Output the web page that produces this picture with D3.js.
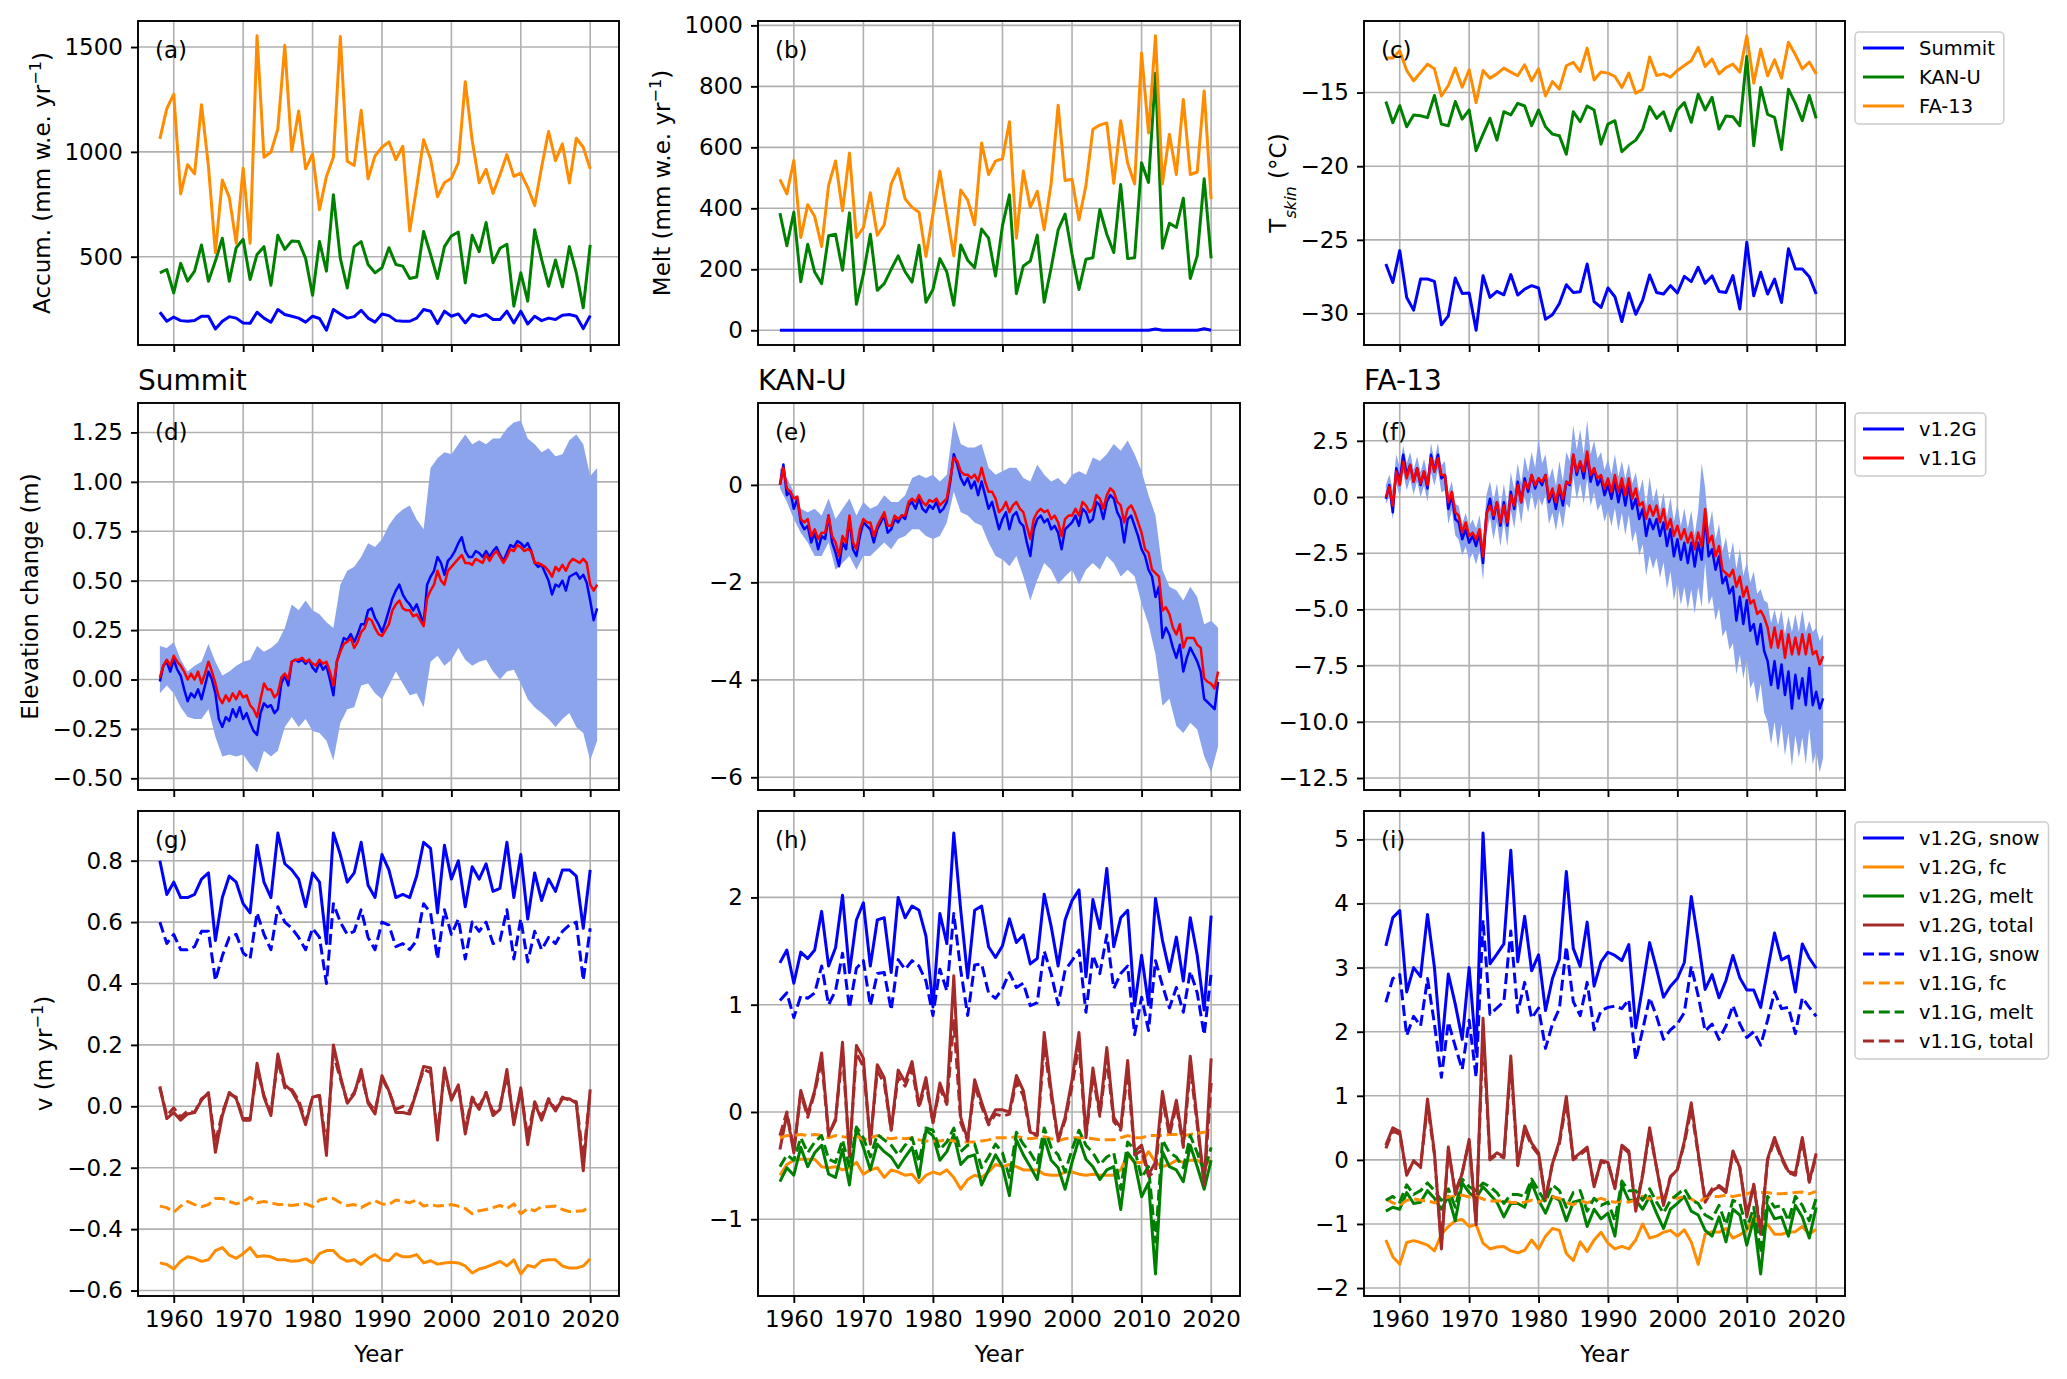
<!DOCTYPE html>
<html>
<head>
<meta charset="utf-8">
<script src="https://cdn.jsdelivr.net/npm/d3@7"></script>
<style>
  body { margin: 0; background: #fff; }
  svg { display: block; font-family: "DejaVu Sans", sans-serif; }
</style>
</head>
<body>
<svg id="fig" width="2067" height="1379"></svg>
<script>
// ---- x values ----
const years = [1958,1959,1960,1961,1962,1963,1964,1965,1966,1967,1968,1969,1970,1971,1972,1973,1974,1975,1976,1977,
  1978,1979,1980,1981,1982,1983,1984,1985,1986,1987,1988,1989,1990,1991,1992,1993,1994,1995,1996,1997,
  1998,1999,2000,2001,2002,2003,2004,2005,2006,2007,2008,2009,2010,2011,2012,2013,2014,2015,2016,2017,2018,2019,2020];

const halfYears = [1958,1958.5,1959,1959.5,1960,1960.5,1961,1961.5,1962,1962.5,1963,1963.5,1964,1964.5,1965,1965.5,1966,1966.5,1967,1967.5,
  1968,1968.5,1969,1969.5,1970,1970.5,1971,1971.5,1972,1972.5,1973,1973.5,1974,1974.5,1975,1975.5,1976,1976.5,1977,1977.5,
  1978,1978.5,1979,1979.5,1980,1980.5,1981,1981.5,1982,1982.5,1983,1983.5,1984,1984.5,1985,1985.5,1986,1986.5,1987,1987.5,
  1988,1988.5,1989,1989.5,1990,1990.5,1991,1991.5,1992,1992.5,1993,1993.5,1994,1994.5,1995,1995.5,1996,1996.5,1997,1997.5,
  1998,1998.5,1999,1999.5,2000,2000.5,2001,2001.5,2002,2002.5,2003,2003.5,2004,2004.5,2005,2005.5,2006,2006.5,2007,2007.5,
  2008,2008.5,2009,2009.5,2010,2010.5,2011,2011.5,2012,2012.5,2013,2013.5,2014,2014.5,2015,2015.5,2016,2016.5,2017,2017.5,
  2018,2018.5,2019,2019.5,2020,2020.5,2021];

const bandYears = [1958,1959,1960,1961,1962,1963,1964,1965,1966,1967,1968,1969,1970,1971,1972,1973,1974,1975,1976,1977,
  1978,1979,1980,1981,1982,1983,1984,1985,1986,1987,1988,1989,1990,1991,1992,1993,1994,1995,1996,1997,
  1998,1999,2000,2001,2002,2003,2004,2005,2006,2007,2008,2009,2010,2011,2012,2013,2014,2015,2016,2017,2018,2019,2020,2021];

const xTicks = [1960, 1970, 1980, 1990, 2000, 2010, 2020];

// ---- (a) accumulation, mm w.e. / yr ----
const accumSummit = [235,192,212,195,192,196,216,216,155,192, 214,207,184,182,235,207,187,248,224,216,
  207,188,216,205,149,248,227,207,214,244, 207,188,227,219,195,192,192,207,248,240,
  181,240,216,227,184,224,214,224,200,200, 240,184,240,179,216,195,207,200,221,224, 216,157,219];
const accumKANU = [423,439,327,468,383,431,556,383,479,588, 383,543,583,391,511,548,364,602,535,575,
  572,492,316,572,431,796,492,351,548,572, 463,423,447,543,463,455,396,403,620,511,
  396,548,599,618,375,602,524,663,471,540, 559,264,423,288,628,487,359,484,356,548, 423,256,556];
const accumFA13 = [1062,1206,1275,799,939,895,1225,931,519,866, 783,564,922,564,1554,974,998,1110,1508,1003,
  1195,919,990,724,883,974,1550,955,935,1198, 871,981,1022,1048,963,1027,623,831,1058,966,
  786,853,874,947,1335,1054,853,917,802,891, 987,883,899,831,744,927,1097,958,1038,851, 1065,1022,919];

// ---- (b) melt, mm w.e. / yr ----
const meltSummit = [0,0,0,0,0,0,0,0,0,0, 0,0,0,0,0,0,0,0,0,0, 0,0,0,0,0,0,0,0,0,0, 0,0,0,0,0,0,0,0,0,0,
  0,0,0,0,0,0,0,0,0,0, 0,0,0,0,4,0,0,0,0,0, 0,5,0];
const meltKANU = [384,277,387,159,282,191,153,310,315,197, 385,85,184,315,131,153,200,244,192,158,
  279,92,134,235,191,82,280,230,205,332, 302,178,343,444,120,211,227,312,92,205,
  329,381,249,134,233,238,396,315,255,478, 235,238,549,485,843,269,351,337,433,170, 244,497,236];
const meltFA13 = [495,447,557,304,412,373,275,475,555,392, 581,304,337,451,312,346,480,530,431,403,
  387,242,381,522,381,244,460,427,346,614, 511,555,563,684,302,522,403,456,330,482,
  738,491,495,362,475,659,673,680,482,687, 548,480,909,647,966,480,643,511,757,511, 519,785,430];

// ---- (c) skin temperature, degC ----
const tskinSummit = [-26.64,-27.89,-25.73,-28.91,-29.77,-27.66,-27.66,-27.82,-30.77,-30.16,
  -27.59,-28.64,-28.61,-31.14,-27.43,-28.91,-28.5,-28.73,-27.36,-28.75,
  -28.34,-28.11,-28.27,-30.39,-30.09,-29.32,-28.05,-28.57,-28.52,-26.64,
  -29.2,-29.59,-28.27,-28.86,-30.55,-28.61,-30.05,-29.09,-27.39,-28.57,
  -28.68,-28.11,-28.61,-27.48,-27.84,-26.86,-27.95,-27.45,-28.5,-28.57,
  -27.43,-29.7,-25.16,-28.8,-27.2,-28.68,-27.66,-29.25,-25.61,-26.98, -26.98,-27.5,-28.68];
const tskinKANU = [-15.61,-17.05,-15.89,-17.32,-16.52,-16.57,-16.7,-15.2,-17.14,-17.25,
  -15.61,-16.8,-16.18,-18.95,-17.82,-16.75,-18.23,-16.3,-16.52,-15.73,
  -15.91,-17.25,-16.18,-17.32,-17.82,-17.93,-19.18,-16.3,-16.98,-15.91,
  -16.18,-18.5,-17.14,-16.91,-19.02,-18.57,-18.23,-17.5,-15.95,-16.75,
  -16.3,-17.59,-16.18,-15.68,-17.02,-15.11,-16.18,-15.32,-17.48,-16.59,
  -16.64,-17.25,-12.55,-18.61,-14.66,-16.48,-16.68,-18.86,-14.77,-15.73, -16.91,-15.2,-16.75];
const tskinFA13 = [-12.66,-12.66,-12.16,-13.5,-14.2,-13.64,-13.07,-13.39,-15.23,-14.52,
  -13.34,-14.64,-13.45,-15.68,-13.5,-14.02,-13.73,-13.34,-13.61,-13.86,
  -13.11,-14.2,-13.39,-15.23,-14.25,-14.77,-13.18,-12.95,-13.57,-11.98,
  -14.14,-13.61,-13.68,-13.91,-14.66,-13.68,-15.05,-14.77,-12.59,-13.84,
  -13.73,-13.95,-13.5,-13.16,-12.84,-11.93,-13.23,-12.73,-13.73,-13.3,
  -13.07,-13.61,-11.14,-14.36,-12.05,-13.86,-12.77,-14.02,-11.59,-12.43, -13.39,-12.93,-13.73];

// ---- (d) Summit elevation change, m (half-yearly) ----
const dSummitV12 = [-0.01,0.07, 0.09,0.04, 0.10,0.05, 0.02,-0.05, -0.11,-0.07, -0.09,-0.05, -0.10,-0.03, 0.04,0.00, -0.07,-0.20, -0.24,-0.19,
  -0.21,-0.15, -0.19,-0.14, -0.20,-0.17, -0.22,-0.26, -0.28,-0.17, -0.12,-0.14, -0.13,-0.17, -0.15,-0.02, 0.02,-0.03, 0.09,0.10,
  0.09,0.10, 0.08,0.10, 0.06,0.04, 0.09,0.05, 0.07,0.00, -0.08,0.09, 0.15,0.21, 0.20,0.23, 0.19,0.23, 0.28,0.28,
  0.35,0.36, 0.31,0.28, 0.24,0.29, 0.35,0.41, 0.45,0.48, 0.43,0.40, 0.38,0.35, 0.38,0.33, 0.28,0.48, 0.52,0.55,
  0.62,0.59, 0.53,0.60, 0.62,0.65, 0.69,0.72, 0.65,0.62, 0.62,0.65, 0.64,0.62, 0.65,0.62, 0.65,0.67, 0.63,0.60,
  0.64,0.68, 0.67,0.70, 0.69,0.67, 0.69,0.65, 0.59,0.57, 0.58,0.54, 0.50,0.43, 0.48,0.47, 0.50,0.45, 0.52,0.53,
  0.54,0.51, 0.53,0.49, 0.40,0.30, 0.36];
const dSummitV11 = [0.01,0.07, 0.10,0.07, 0.12,0.09, 0.07,0.04, 0.00,0.03, 0.00,0.04, -0.02,0.03, 0.09,0.04, -0.02,-0.09, -0.12,-0.08,
  -0.11,-0.07, -0.10,-0.06, -0.09,-0.08, -0.13,-0.15, -0.19,-0.10, -0.02,-0.05, -0.05,-0.09, -0.07,0.01, 0.03,0.00, 0.09,0.10,
  0.10,0.11, 0.09,0.10, 0.08,0.07, 0.10,0.08, 0.09,0.04, -0.03,0.09, 0.14,0.18, 0.19,0.21, 0.16,0.19, 0.24,0.26,
  0.31,0.30, 0.26,0.23, 0.22,0.25, 0.28,0.35, 0.38,0.40, 0.36,0.35, 0.35,0.32, 0.33,0.30, 0.27,0.41, 0.45,0.48,
  0.55,0.50, 0.48,0.55, 0.57,0.59, 0.61,0.63, 0.59,0.59, 0.58,0.61, 0.60,0.59, 0.63,0.60, 0.63,0.65, 0.62,0.59,
  0.62,0.66, 0.65,0.68, 0.67,0.65, 0.66,0.65, 0.59,0.59, 0.58,0.57, 0.55,0.52, 0.57,0.55, 0.58,0.55, 0.59,0.61,
  0.60,0.59, 0.61,0.59, 0.48,0.45, 0.48];
const dSummitHi = [0.17,0.16,0.19,0.10,0.04,0.07,0.09,0.18,0.09,0.02, 0.04,0.07,0.09,0.10,0.17,0.14,0.16,0.19,0.26,0.38,
  0.35,0.40,0.35,0.33,0.29,0.26,0.48,0.55,0.57,0.62, 0.69,0.67,0.71,0.78,0.83,0.86,0.88,0.81,0.76,1.07,
  1.12,1.15,1.14,1.19,1.24,1.19,1.21,1.19,1.22,1.22, 1.27,1.30,1.31,1.22,1.19,1.15,1.17,1.13,1.14,1.21, 1.24,1.19,1.03,1.07];
const dSummitLo = [-0.07,-0.03,-0.07,-0.14,-0.19,-0.20,-0.20,-0.15,-0.29,-0.39, -0.38,-0.39,-0.38,-0.43,-0.47,-0.36,-0.39,-0.36,-0.24,-0.19,
  -0.24,-0.20,-0.26,-0.27,-0.31,-0.41,-0.22,-0.15,-0.14,-0.03, -0.02,-0.07,-0.10,-0.03,0.04,-0.02,-0.08,-0.07,-0.14,0.09,
  0.12,0.07,0.10,0.16,0.10,0.07,0.09,0.10,0.04,0.00, 0.04,0.05,-0.02,-0.10,-0.14,-0.17,-0.20,-0.24,-0.20,-0.17, -0.24,-0.27,-0.41,-0.31];

// ---- (e) KAN-U elevation change, m ----
const eKANUV12 = [0.00,0.42, -0.21,-0.14, -0.49,-0.28, -0.77,-0.91, -0.84,-1.18, -0.98,-1.32, -1.05,-1.11, -0.63,-1.18, -1.39,-1.67, -1.18,-1.32,
  -0.70,-1.32, -1.46,-1.05, -0.77,-0.84, -0.91,-1.18, -0.91,-0.77, -0.63,-0.98, -0.91,-0.70, -0.77,-0.63, -0.70,-0.42, -0.35,-0.49,
  -0.28,-0.49, -0.56,-0.42, -0.49,-0.35, -0.56,-0.49, -0.35,0.07, 0.63,0.42, 0.14,0.00, 0.14,-0.07, 0.07,-0.21, 0.07,-0.21,
  -0.49,-0.35, -0.63,-0.91, -0.70,-0.56, -0.91,-0.63, -0.56,-0.77, -0.84,-1.18, -1.46,-0.91, -0.70,-0.63, -0.77,-0.70, -0.91,-0.84,
  -0.98,-1.32, -0.91,-0.84, -0.77,-0.63, -0.84,-0.49, -0.56,-0.77, -0.70,-0.35, -0.42,-0.70, -0.35,-0.21, -0.28,-0.56, -0.70,-1.18,
  -0.70,-0.63, -0.84,-1.05, -1.32,-1.46, -1.74,-1.88, -2.30,-2.09, -3.14,-2.93, -3.07,-3.34, -3.55,-3.28, -3.83,-3.55, -3.34,-3.48,
  -3.62,-3.83, -4.39,-4.46, -4.53,-4.60, -4.04];
const eKANUV11 = [0.00,0.35, -0.07,-0.14, -0.28,-0.24, -0.70,-0.77, -0.70,-1.05, -0.91,-1.11, -0.98,-0.98, -0.63,-1.05, -1.18,-1.46, -1.05,-1.18,
  -0.63,-1.18, -1.32,-0.91, -0.70,-0.77, -0.77,-1.05, -0.84,-0.70, -0.56,-0.84, -0.84,-0.63, -0.70,-0.63, -0.63,-0.35, -0.28,-0.35,
  -0.21,-0.35, -0.42,-0.31, -0.35,-0.28, -0.42,-0.35, -0.28,0.14, 0.56,0.49, 0.28,0.21, 0.21,0.14, 0.21,0.07, 0.35,0.07,
  -0.14,-0.14, -0.28,-0.56, -0.49,-0.35, -0.56,-0.42, -0.35,-0.49, -0.56,-0.84, -1.11,-0.70, -0.56,-0.49, -0.56,-0.52, -0.70,-0.63,
  -0.77,-1.05, -0.70,-0.63, -0.63,-0.49, -0.63,-0.35, -0.42,-0.56, -0.49,-0.21, -0.28,-0.49, -0.21,-0.07, -0.14,-0.35, -0.42,-0.77,
  -0.49,-0.42, -0.56,-0.77, -0.98,-1.32, -1.39,-1.74, -1.81,-1.88, -2.58,-2.51, -2.65,-2.93, -3.07,-2.86, -3.34,-3.14, -3.14,-3.14,
  -3.28,-3.34, -3.97,-4.04, -4.08,-4.18, -3.83];
const eKANUHi = [0.35,0.14,-0.14,-0.49,-0.56,-0.49,-0.63,-0.28,-0.70,-0.49, -0.28,-0.63,-0.35,-0.49,-0.42,-0.21,-0.35,-0.35,-0.21,0.14,
  0.21,0.14,0.21,0.07,0.21,1.32,0.84,0.77,0.77,0.84, 0.35,0.21,0.28,0.35,0.35,0.14,0.07,0.42,0.21,0.07,
  0.14,0.00,0.21,0.28,0.21,0.56,0.49,0.63,0.84,0.70, 0.91,0.63,0.28,-0.21,-0.63,-1.74,-2.09,-2.16,-2.37,-2.09, -2.30,-2.86,-2.79,-2.93];
const eKANULo = [-0.07,-0.35,-0.70,-0.98,-1.18,-1.46,-1.46,-1.18,-1.74,-1.60, -1.46,-1.74,-1.46,-1.46,-1.32,-1.18,-1.32,-1.11,-1.05,-0.91,
  -0.91,-1.05,-1.11,-1.05,-0.77,-0.14,-0.56,-0.63,-0.77,-0.84, -1.18,-1.46,-1.53,-1.67,-1.46,-1.88,-2.37,-1.95,-1.60,-1.74,
  -2.04,-1.88,-1.74,-2.04,-1.74,-1.60,-1.74,-1.46,-1.60,-1.88, -1.74,-1.88,-2.44,-2.86,-3.48,-4.53,-4.39,-4.95,-5.09,-4.88, -5.02,-5.57,-5.90,-5.37];

// ---- (f) FA-13 elevation change, m ----
const fFA13V12 = [-0.08,0.53, -0.68,1.28, 0.68,1.88, 0.98,1.43, 0.68,1.28, 0.53,1.13, 0.38,1.88, 1.13,1.88, 0.83,0.98, -0.53,0.08,
  -0.98,-1.13, -1.88,-1.43, -2.03,-1.73, -2.18,-1.58, -2.94,-0.75, -0.08,-0.98, -0.23,-1.28, -0.23,-1.28, 0.23,-0.53, 0.68,-0.23,
  0.83,0.23, 0.98,0.38, 0.83,0.53, 0.98,-0.23, 0.23,-0.53, 0.38,-0.38, 0.68,0.53, 1.88,0.98, 1.58,0.83, 1.88,0.68,
  1.28,0.53, 0.83,0.08, 0.53,-0.08, 0.68,-0.23, 0.53,-0.38, 0.53,-0.53, -0.08,-0.98, -0.53,-1.73, -0.98,-1.43, -0.98,-1.73,
  -1.13,-2.18, -1.43,-2.64, -1.88,-2.79, -2.03,-2.94, -2.03,-3.09, -2.03,-2.79, -0.83,-2.64, -2.33,-3.24, -2.64,-3.84, -3.54,-4.29,
  -3.99,-5.50, -4.44,-5.65, -4.59,-5.95, -5.65,-6.55, -5.65,-6.85, -7.30,-8.36, -7.30,-8.51, -7.45,-8.81, -7.76,-9.41, -7.91,-8.96,
  -8.06,-9.26, -7.61,-9.26, -8.66,-9.41, -8.96];
const fFA13V11 = [0.00,0.45, -0.38,1.13, 0.53,1.58, 0.83,1.43, 0.68,1.28, 0.60,1.13, 0.53,1.73, 1.13,1.73, 0.98,0.98, -0.23,0.23,
  -0.68,-0.83, -1.58,-1.13, -1.73,-1.58, -1.88,-1.43, -2.64,-0.75, -0.38,-0.83, -0.23,-1.13, -0.38,-1.13, 0.08,-0.38, 0.53,-0.23,
  0.68,0.38, 0.98,0.53, 0.83,0.68, 0.98,-0.08, 0.38,-0.23, 0.53,-0.08, 0.68,0.60, 1.88,1.13, 1.58,1.13, 2.03,0.98,
  1.28,0.83, 0.98,0.38, 0.83,0.23, 0.98,0.23, 0.83,0.08, 0.83,-0.08, 0.38,-0.38, -0.23,-0.98, -0.38,-0.83, -0.38,-1.13,
  -0.53,-1.43, -0.98,-1.73, -1.28,-1.88, -1.43,-2.03, -1.58,-2.33, -1.58,-2.18, -0.53,-2.03, -1.73,-2.64, -2.18,-3.24, -3.39,-3.54,
  -3.24,-3.99, -3.54,-4.44, -3.99,-4.74, -4.59,-5.20, -5.05,-5.35, -5.80,-6.70, -5.80,-6.70, -5.95,-7.15, -6.10,-7.00, -6.25,-7.00,
  -6.10,-7.00, -6.10,-7.00, -6.85,-7.45, -7.08];
const fFA13Hi = [0.53,1.0, 0.3,1.9, 1.3,2.3, 1.5,2.0, 1.2,1.8, 1.1,1.7, 1.0,2.4, 1.6,2.4, 1.4,1.6, 0.2,0.7,
  -0.3,-0.4, -1.2,-0.7, -1.3,-1.0, -1.4,-0.8, -2.0,0.1, 0.7,-0.2, 0.6,-0.5, 0.6,-0.4, 1.1,0.3, 1.5,0.6,
  1.8,1.1, 2.0,1.3, 2.6,1.5, 1.9,0.8, 1.3,0.5, 1.6,0.7, 2.0,1.6, 3.2,2.1, 3.0,1.9, 3.4,1.9,
  2.5,1.7, 2.0,1.2, 1.7,1.0, 1.9,0.9, 1.6,0.8, 1.5,0.6, 1.1,0.2, 0.8,-0.4, 0.9,-0.2, 0.4,-0.6,
  0.2,-0.9, 0.0,-1.1, -0.3,-1.3, -0.5,-1.4, -0.6,-1.7, -0.6,1.5, 0.4,-1.4, -0.6,-1.9, -1.2,-2.4, -1.8,-2.8,
  -2.0,-3.2, -2.3,-3.5, -2.9,-3.8, -3.3,-4.3, -4.1,-4.6, -4.7,-5.6, -5.0,-5.7, -5.0,-6.1, -5.3,-6.0, -5.2,-6.0,
  -5.0,-6.0, -5.5,-6.0, -5.8,-6.4, -6.1];
const fFA13Lo = [-0.3,0.0, -1.0,0.6, 0.0,1.1, 0.3,0.8, 0.1,0.7, 0.0,0.5, -0.2,1.1, 0.5,1.2, 0.2,0.3, -1.2,-0.6,
  -1.7,-1.9, -2.6,-2.2, -2.8,-2.5, -3.0,-2.4, -3.7,-1.6, -0.9,-1.9, -1.1,-2.2, -1.1,-2.2, -0.6,-1.4, -0.2,-1.2,
  0.0,-0.7, 0.2,-0.6, 0.0,-0.4, 0.1,-1.2, -0.7,-1.5, -0.6,-1.4, -0.3,-0.5, 0.9,-0.1, 0.6,-0.3, 0.8,-0.4,
  0.2,-0.6, -0.3,-1.1, -0.6,-1.3, -0.5,-1.5, -0.7,-1.7, -0.8,-2.0, -1.5,-2.6, -2.1,-3.5, -2.6,-3.2, -2.7,-3.6,
  -2.9,-4.1, -3.3,-4.6, -3.8,-4.8, -4.0,-5.0, -4.1,-5.2, -4.0,-4.9, -2.9,-4.8, -4.4,-5.5, -4.9,-6.2, -5.9,-6.8,
  -6.5,-7.9, -7.0,-8.1, -7.2,-8.5, -8.2,-9.2, -8.3,-9.6, -10.0,-11.0, -10.0,-11.2, -10.1,-11.5, -10.5,-12.0, -10.6,-11.6,
  -10.7,-11.9, -10.3,-11.9, -11.3,-12.25, -11.6];

// ---- (g) Summit velocity components, m / yr ----
const gSnowV12 = [0.80,0.69,0.73,0.68,0.68,0.69,0.74,0.76,0.54,0.68, 0.75,0.73,0.66,0.63,0.85,0.73,0.68,0.89,0.79,0.77,
  0.74,0.65,0.76,0.73,0.53,0.89,0.82,0.73,0.76,0.86, 0.72,0.68,0.82,0.77,0.68,0.69,0.68,0.75,0.86,0.84,
  0.63,0.85,0.74,0.80,0.65,0.78,0.74,0.79,0.70,0.71, 0.86,0.68,0.82,0.61,0.76,0.67,0.74,0.70,0.77,0.77, 0.75,0.58,0.77];
const gSnowV11 = [0.60,0.53,0.56,0.51,0.51,0.52,0.57,0.57,0.41,0.49, 0.55,0.56,0.50,0.48,0.63,0.56,0.51,0.65,0.60,0.58,
  0.55,0.51,0.58,0.55,0.40,0.66,0.60,0.56,0.57,0.64, 0.55,0.51,0.60,0.59,0.52,0.53,0.51,0.54,0.66,0.63,
  0.48,0.64,0.56,0.61,0.48,0.60,0.57,0.60,0.53,0.54, 0.64,0.48,0.61,0.47,0.57,0.51,0.55,0.53,0.57,0.59, 0.60,0.41,0.58];
const gFcV12 = [-0.51,-0.515,-0.53,-0.505,-0.49,-0.495,-0.505,-0.50,-0.47,-0.46, -0.485,-0.495,-0.48,-0.46,-0.49,-0.487,-0.49,-0.50,-0.50,-0.505,
  -0.503,-0.497,-0.51,-0.48,-0.47,-0.47,-0.493,-0.505,-0.50,-0.515, -0.495,-0.483,-0.50,-0.503,-0.48,-0.49,-0.49,-0.483,-0.51,-0.503,
  -0.514,-0.51,-0.508,-0.51,-0.52,-0.543,-0.53,-0.524,-0.515,-0.505, -0.52,-0.50,-0.546,-0.518,-0.524,-0.503,-0.50,-0.50,-0.52,-0.527, -0.527,-0.52,-0.497];
const gFcV11 = [-0.325,-0.33,-0.345,-0.325,-0.31,-0.32,-0.327,-0.32,-0.30,-0.30, -0.31,-0.318,-0.31,-0.296,-0.314,-0.31,-0.314,-0.32,-0.32,-0.323,
  -0.32,-0.318,-0.327,-0.305,-0.30,-0.30,-0.314,-0.323,-0.32,-0.33, -0.318,-0.308,-0.318,-0.32,-0.305,-0.31,-0.314,-0.305,-0.325,-0.32,
  -0.325,-0.323,-0.32,-0.325,-0.333,-0.35,-0.34,-0.336,-0.33,-0.323, -0.333,-0.318,-0.35,-0.333,-0.34,-0.327,-0.327,-0.325,-0.336,-0.343, -0.342,-0.34,-0.325];
const gTotalV12 = [0.065,-0.04,-0.02,-0.045,-0.025,-0.02,0.02,0.045,-0.15,-0.03, 0.045,0.025,-0.045,-0.045,0.14,0.03,-0.03,0.17,0.07,0.05,
  0.01,-0.06,0.03,0.035,-0.16,0.20,0.10,0.01,0.04,0.12, 0.01,-0.025,0.10,0.05,-0.02,-0.02,-0.025,0.05,0.13,0.125,
  -0.11,0.125,0.02,0.07,-0.09,0.025,-0.01,0.045,-0.03,-0.01, 0.12,-0.06,0.06,-0.125,0.01,-0.045,0.02,-0.015,0.025,0.025, 0.01,-0.21,0.055];
const gTotalV11 = [0.06,-0.03,-0.005,-0.035,-0.015,-0.02,0.025,0.04,-0.12,-0.02, 0.04,0.03,-0.04,-0.04,0.12,0.035,-0.02,0.15,0.06,0.055,
  0.02,-0.05,0.03,0.035,-0.13,0.17,0.09,0.015,0.045,0.10, 0.015,-0.015,0.09,0.05,-0.01,0.0,-0.015,0.05,0.12,0.11,
  -0.09,0.11,0.025,0.065,-0.07,0.03,0.0,0.045,-0.02,0.0, 0.10,-0.05,0.05,-0.10,0.015,-0.035,0.025,-0.01,0.03,0.02, 0.015,-0.17,0.045];

// ---- (h) KAN-U velocity components ----
const hSnowV12 = [1.39,1.51,1.20,1.49,1.43,1.51,1.87,1.36,1.53,2.02, 1.30,1.79,1.95,1.36,1.79,1.81,1.30,2.00,1.81,1.92,
  1.88,1.64,0.98,1.85,1.57,2.60,1.88,1.25,1.88,1.92, 1.54,1.44,1.55,1.80,1.58,1.65,1.38,1.43,2.03,1.73,
  1.36,1.79,1.97,2.07,1.26,1.98,1.71,2.27,1.54,1.81, 1.88,0.99,1.46,1.00,1.99,1.60,1.31,1.63,1.22,1.81, 1.46,0.95,1.83];
const hSnowV11 = [1.04,1.11,0.88,1.08,1.06,1.11,1.36,1.00,1.13,1.48, 0.97,1.34,1.41,0.99,1.29,1.30,0.95,1.42,1.33,1.41,
  1.36,1.22,0.90,1.33,1.13,1.85,1.32,0.90,1.37,1.38, 1.11,1.06,1.15,1.30,1.16,1.20,0.99,1.02,1.50,1.29,
  1.00,1.32,1.41,1.51,0.93,1.46,1.29,1.65,1.15,1.29, 1.36,0.72,1.07,0.76,1.41,1.18,0.97,1.16,0.93,1.31, 1.11,0.72,1.29];
const hFcV12 = [-0.59,-0.49,-0.45,-0.44,-0.44,-0.44,-0.51,-0.52,-0.51,-0.54, -0.52,-0.47,-0.58,-0.54,-0.52,-0.61,-0.54,-0.56,-0.59,-0.58,
  -0.66,-0.59,-0.56,-0.58,-0.54,-0.61,-0.72,-0.63,-0.59,-0.61, -0.56,-0.49,-0.51,-0.49,-0.51,-0.54,-0.54,-0.54,-0.58,-0.59,
  -0.59,-0.56,-0.56,-0.58,-0.59,-0.58,-0.59,-0.59,-0.59,-0.54, -0.40,-0.47,-0.47,-0.37,-0.47,-0.51,-0.49,-0.45,-0.47,-0.45, -0.45,-0.49,-0.45];
const hFcV11 = [-0.24,-0.22,-0.22,-0.21,-0.22,-0.21,-0.22,-0.24,-0.22,-0.23, -0.24,-0.22,-0.26,-0.24,-0.22,-0.24,-0.25,-0.24,-0.25,-0.24,
  -0.26,-0.27,-0.27,-0.27,-0.26,-0.27,-0.28,-0.28,-0.28,-0.27, -0.26,-0.24,-0.24,-0.24,-0.23,-0.24,-0.25,-0.24,-0.23,-0.25,
  -0.27,-0.25,-0.24,-0.24,-0.24,-0.25,-0.26,-0.26,-0.26,-0.24, -0.22,-0.24,-0.24,-0.22,-0.22,-0.22,-0.21,-0.21,-0.22,-0.21, -0.20,-0.19,-0.18];
const hMeltV12 = [-0.65,-0.52,-0.59,-0.33,-0.51,-0.38,-0.31,-0.58,-0.61,-0.35, -0.68,-0.15,-0.33,-0.54,-0.30,-0.37,-0.42,-0.52,-0.42,-0.33,
  -0.61,-0.17,-0.22,-0.45,-0.37,-0.21,-0.49,-0.42,-0.40,-0.68, -0.54,-0.40,-0.51,-0.78,-0.26,-0.40,-0.51,-0.63,-0.24,-0.45,
  -0.52,-0.72,-0.47,-0.25,-0.44,-0.51,-0.63,-0.54,-0.51,-0.91, -0.38,-0.47,-0.79,-0.66,-1.51,-0.37,-0.51,-0.54,-0.65,-0.31, -0.51,-0.72,-0.45];
const hMeltV11 = [-0.51,-0.40,-0.45,-0.24,-0.38,-0.28,-0.22,-0.44,-0.47,-0.26, -0.52,-0.14,-0.24,-0.42,-0.21,-0.26,-0.31,-0.40,-0.31,-0.24,
  -0.47,-0.15,-0.17,-0.35,-0.28,-0.15,-0.37,-0.31,-0.30,-0.52, -0.42,-0.30,-0.38,-0.61,-0.19,-0.30,-0.38,-0.49,-0.15,-0.33,
  -0.40,-0.56,-0.35,-0.17,-0.31,-0.38,-0.49,-0.42,-0.38,-0.72, -0.28,-0.35,-0.61,-0.51,-1.21,-0.26,-0.38,-0.42,-0.52,-0.22, -0.38,-0.56,-0.33];
const hTotalV12 = [-0.35,-0.02,-0.38,0.20,-0.02,0.20,0.55,-0.21,-0.08,0.65, -0.42,0.62,0.50,-0.30,0.44,0.32,-0.17,0.39,0.28,0.47,
  0.06,0.32,-0.10,0.27,0.09,1.27,-0.05,-0.26,0.30,0.09, -0.10,0.02,0.02,0.00,0.34,0.20,-0.19,-0.21,0.74,0.20,
  -0.26,-0.05,0.30,0.74,-0.22,0.41,-0.01,0.60,-0.05,-0.15, 0.48,-0.37,-0.31,-0.58,-0.47,0.19,-0.19,0.11,-0.30,0.52, -0.08,-0.66,0.50];
const hTotalV11 = [-0.22,0.00,-0.35,0.17,-0.05,0.18,0.48,-0.22,-0.06,0.55, -0.40,0.55,0.42,-0.28,0.38,0.27,-0.17,0.33,0.24,0.40,
  0.04,0.27,-0.10,0.22,0.07,0.85,-0.10,-0.27,0.25,0.05, -0.12,-0.02,-0.04,-0.02,0.28,0.15,-0.20,-0.22,0.62,0.15,
  -0.27,-0.08,0.24,0.62,-0.24,0.34,-0.04,0.50,-0.09,-0.17, 0.38,-0.40,-0.36,-0.60,-0.55,0.12,-0.22,0.06,-0.33,0.42, -0.12,-0.68,0.27];

// ---- (i) FA-13 velocity components ----
const iSnowV12 = [3.34,3.78,3.89,2.62,3.00,2.86,3.83,3.00,1.71,2.90, 2.43,1.88,3.00,1.68,5.10,3.06,3.21,3.37,4.83,3.09,
  3.80,2.95,3.20,2.33,2.83,3.13,4.50,3.30,3.02,3.71, 2.71,3.09,3.24,3.19,3.11,3.36,2.06,2.71,3.39,2.98,
  2.54,2.71,2.83,3.08,4.11,3.42,2.66,2.89,2.53,2.80, 3.19,2.84,2.65,2.65,2.38,2.96,3.54,3.12,3.18,2.62, 3.37,3.15,2.99];
const iSnowV11 = [2.46,2.83,2.89,1.94,2.24,2.09,2.83,2.12,1.29,2.15, 1.77,1.41,2.18,1.29,3.74,2.27,2.37,2.47,3.57,2.30,
  2.77,2.21,2.37,1.74,2.12,2.36,3.33,2.47,2.25,2.77, 2.03,2.33,2.38,2.40,2.36,2.50,1.56,2.03,2.53,2.24,
  1.88,2.03,2.12,2.30,3.02,2.56,2.01,2.12,1.88,2.09, 2.41,2.12,1.91,2.00,1.79,2.18,2.62,2.36,2.38,1.97, 2.53,2.38,2.24];
const iFcV12 = [-1.25,-1.51,-1.63,-1.29,-1.26,-1.29,-1.33,-1.42,-1.16,-1.04, -0.95,-0.93,-1.04,-1.01,-1.30,-1.39,-1.36,-1.35,-1.42,-1.45,
  -1.41,-1.25,-1.39,-1.19,-1.07,-1.10,-1.46,-1.57,-1.28,-1.43, -1.25,-1.13,-1.30,-1.39,-1.35,-1.39,-1.25,-1.00,-1.22,-1.19,
  -1.13,-1.10,-1.19,-1.09,-1.28,-1.63,-1.16,-1.12,-1.13,-1.07, -1.22,-1.17,-1.10,-0.89,-1.01,-1.01,-1.16,-1.16,-1.13,-1.12, -1.04,-1.16,-1.08];
const iFcV11 = [-0.61,-0.67,-0.71,-0.63,-0.61,-0.63,-0.64,-0.67,-0.61,-0.58, -0.57,-0.55,-0.58,-0.57,-0.61,-0.64,-0.64,-0.64,-0.66,-0.67,
  -0.66,-0.63,-0.66,-0.61,-0.58,-0.60,-0.67,-0.70,-0.64,-0.67, -0.63,-0.60,-0.64,-0.66,-0.64,-0.66,-0.63,-0.57,-0.61,-0.60,
  -0.58,-0.58,-0.60,-0.57,-0.61,-0.68,-0.58,-0.57,-0.57,-0.55, -0.57,-0.55,-0.53,-0.49,-0.51,-0.51,-0.53,-0.53,-0.52,-0.51, -0.50,-0.53,-0.49];
const iMeltV12 = [-0.80,-0.74,-0.77,-0.51,-0.68,-0.66,-0.48,-0.60,-0.77,-0.57, -0.95,-0.36,-0.51,-0.60,-0.42,-0.54,-0.66,-0.89,-0.68,-0.68,
  -0.74,-0.36,-0.63,-0.83,-0.57,-0.63,-0.95,-0.66,-0.63,-1.04, -0.77,-0.92,-0.83,-1.19,-0.39,-0.63,-0.63,-0.77,-0.57,-0.83,
  -1.07,-0.77,-0.68,-0.57,-0.80,-0.86,-1.10,-1.19,-0.89,-1.28, -0.77,-0.86,-1.33,-0.92,-1.78,-0.71,-0.92,-0.89,-1.19,-0.71, -0.89,-1.22,-0.74];
const iMeltV11 = [-0.63,-0.57,-0.66,-0.39,-0.54,-0.48,-0.36,-0.48,-0.63,-0.45, -0.74,-0.30,-0.42,-0.48,-0.36,-0.42,-0.51,-0.68,-0.54,-0.54,
  -0.57,-0.30,-0.48,-0.66,-0.39,-0.48,-0.74,-0.51,-0.48,-0.80, -0.60,-0.71,-0.66,-0.95,-0.33,-0.48,-0.48,-0.63,-0.45,-0.66,
  -0.83,-0.63,-0.54,-0.45,-0.63,-0.68,-0.86,-0.92,-0.71,-1.01, -0.63,-0.68,-1.07,-0.74,-1.45,-0.57,-0.74,-0.71,-0.95,-0.57, -0.71,-0.95,-0.60];
const iTotalV12 = [0.23,0.50,0.44,-0.24,-0.01,-0.12,0.95,0.11,-1.39,0.20, -0.54,-0.21,0.32,-1.01,2.21,0.02,0.11,0.05,1.62,-0.09,
  0.53,0.26,0.11,-0.63,-0.06,0.29,0.99,0.02,0.11,0.20, -0.42,-0.01,-0.04,-0.45,0.23,0.14,-0.80,-0.24,0.50,-0.12,
  -0.71,-0.27,-0.15,0.29,0.89,0.11,-0.66,-0.48,-0.42,-0.51, 0.14,-0.12,-0.89,-0.39,-1.16,0.02,0.35,0.05,-0.18,-0.21, 0.35,-0.33,0.10];
const iTotalV11 = [0.18,0.45,0.40,-0.22,-0.03,-0.10,0.85,0.08,-1.30,0.15, -0.50,-0.20,0.28,-0.95,2.00,0.00,0.08,0.03,1.48,-0.08,
  0.48,0.22,0.08,-0.60,-0.05,0.25,0.90,0.00,0.08,0.17, -0.40,-0.03,-0.06,-0.42,0.20,0.11,-0.75,-0.22,0.45,-0.12,
  -0.68,-0.26,-0.15,0.25,0.80,0.08,-0.62,-0.45,-0.40,-0.48, 0.10,-0.13,-0.85,-0.38,-1.10,0.00,0.30,0.02,-0.20,-0.24, 0.30,-0.35,0.06];

// ---- layout / style ----
const svg = d3.select('#fig');
const colLeft = [138, 758, 1364], colRight = [619, 1240, 1845];
const rowTop = [21, 403, 811], rowBottom = [345, 790, 1296];
const xDomain = [1954.85, 2024.15];
const C = {blue: '#0000ff', green: '#008000', orange: '#ff8c00', red: '#ff0000', brown: '#a52a2a', band: 'rgb(139,164,236)'};
const FS = 23, TICK = 7, PAD = 8;
const DASH = '11,4.8';

function sol(x, y, color, w) { return {x: x, y: y, color: color, width: w || 3}; }
function dsh(x, y, color) { return {x: x, y: y, color: color, width: 3, dash: true}; }

function addRich(sel, parts) {
  parts.forEach(p => {
    const t = sel.append('tspan').text(p.t);
    if (p.sup) t.attr('baseline-shift', 'super').attr('font-size', '70%');
    if (p.sub) t.attr('baseline-shift', 'sub').attr('font-size', '70%').attr('font-style', 'italic');
  });
}

function drawPanel(p) {
  const left = colLeft[p.col], right = colRight[p.col];
  const top = rowTop[p.row], bottom = rowBottom[p.row];
  const x = d3.scaleLinear().domain(xDomain).range([left, right]);

  let vals = [];
  p.series.forEach(s => { vals = vals.concat(s.y); });
  if (p.band) vals = vals.concat(p.band.lo, p.band.hi);
  const ext = d3.extent(vals), pad = (ext[1] - ext[0]) * 0.05;
  const y = d3.scaleLinear().domain([ext[0] - pad, ext[1] + pad]).range([bottom, top]);

  const g = svg.append('g');

  // grid
  g.append('g').selectAll('line').data(xTicks).join('line')
    .attr('x1', d => x(d)).attr('x2', d => x(d)).attr('y1', top).attr('y2', bottom)
    .attr('stroke', '#b0b0b0').attr('stroke-width', 1.6);
  g.append('g').selectAll('line').data(p.yTicks).join('line')
    .attr('y1', d => y(d)).attr('y2', d => y(d)).attr('x1', left).attr('x2', right)
    .attr('stroke', '#b0b0b0').attr('stroke-width', 1.6);

  const clipId = 'clip' + p.row + p.col;
  svg.append('clipPath').attr('id', clipId).append('rect')
    .attr('x', left).attr('y', top).attr('width', right - left).attr('height', bottom - top);
  const plot = g.append('g').attr('clip-path', `url(#${clipId})`);

  if (p.band) {
    const area = d3.area()
      .x((d, i) => x(p.band.x[i]))
      .y0((d, i) => y(p.band.lo[i]))
      .y1((d, i) => y(p.band.hi[i]));
    plot.append('path').datum(p.band.lo).attr('d', area).attr('fill', C.band);
  }

  p.series.forEach(s => {
    const line = d3.line().x((d, i) => x(s.x[i])).y(d => y(d));
    plot.append('path').datum(s.y)
      .attr('d', line)
      .attr('fill', 'none')
      .attr('stroke', s.color)
      .attr('stroke-width', s.width)
      .attr('stroke-linejoin', 'round')
      .attr('stroke-dasharray', s.dash ? DASH : null);
  });

  // axes
  const ya = g.append('g').attr('transform', `translate(${left},0)`)
    .call(d3.axisLeft(y).tickValues(p.yTicks).tickFormat(p.fmt).tickSize(TICK).tickPadding(PAD));
  const xa = g.append('g').attr('transform', `translate(0,${bottom})`)
    .call(d3.axisBottom(x).tickValues(xTicks).tickFormat(p.row === 2 ? d3.format('d') : () => '')
      .tickSize(TICK).tickPadding(PAD));
  [ya, xa].forEach(a => {
    a.select('.domain').remove();
    a.attr('font-family', null).attr('font-size', FS);
    a.selectAll('line').attr('stroke', '#000').attr('stroke-width', 1.9);
    a.selectAll('text').attr('fill', '#000');
  });

  g.append('rect')
    .attr('x', left).attr('y', top).attr('width', right - left).attr('height', bottom - top)
    .attr('fill', 'none').attr('stroke', '#000').attr('stroke-width', 1.9);

  // panel letter
  g.append('text').attr('x', left + 17).attr('y', top + 29).attr('dy', '0.35em')
    .attr('font-size', FS).text(p.letter);

  if (p.ylabel) {
    const maxW = d3.max(ya.selectAll('text').nodes(), n => n.getBBox().width);
    const xr = left - TICK - PAD - maxW - 9.4;
    const t = g.append('text')
      .attr('transform', `translate(${xr - 5.5},${(top + bottom) / 2}) rotate(-90)`)
      .attr('text-anchor', 'middle').attr('font-size', FS);
    addRich(t, p.ylabel);
  }
  if (p.row === 2) {
    g.append('text').attr('x', (left + right) / 2).attr('y', bottom + 58).attr('dy', '0.35em')
      .attr('text-anchor', 'middle').attr('font-size', FS).text('Year');
  }
  if (p.title) {
    g.append('text').attr('x', left).attr('y', top - 13).attr('font-size', 28).text(p.title);
  }
  if (p.legend) drawLegend(1855, p.legend.top, p.legend.items);
}

function drawLegend(x0, y0, items) {
  const g = svg.append('g');
  const box = g.append('rect');
  const texts = [];
  items.forEach((it, i) => {
    const cy = y0 + 16 + i * 29;
    g.append('line').attr('x1', x0 + 8).attr('x2', x0 + 49).attr('y1', cy).attr('y2', cy)
      .attr('stroke', it.color).attr('stroke-width', 3)
      .attr('stroke-dasharray', it.dash ? DASH : null);
    texts.push(g.append('text').attr('x', x0 + 64).attr('y', cy).attr('dy', '0.35em')
      .attr('font-size', 19.5).text(it.label));
  });
  const w = d3.max(texts, t => t.node().getComputedTextLength());
  box.attr('x', x0).attr('y', y0).attr('width', 64 + w + 9).attr('height', items.length * 29 + 5)
    .attr('rx', 4).attr('fill', '#fff').attr('fill-opacity', 0.8)
    .attr('stroke', '#cccccc').attr('stroke-width', 1.5);
}

const yrSup = [{t: '−1', sup: true}, {t: ')'}];

const panels = [
  {row: 0, col: 0, letter: '(a)', yTicks: [500, 1000, 1500], fmt: d3.format('d'),
   ylabel: [{t: 'Accum. (mm w.e. yr'}].concat(yrSup),
   series: [sol(years, accumSummit, C.blue), sol(years, accumKANU, C.green), sol(years, accumFA13, C.orange)]},
  {row: 0, col: 1, letter: '(b)', yTicks: [0, 200, 400, 600, 800, 1000], fmt: d3.format('d'),
   ylabel: [{t: 'Melt (mm w.e. yr'}].concat(yrSup),
   series: [sol(years, meltSummit, C.blue), sol(years, meltKANU, C.green), sol(years, meltFA13, C.orange)]},
  {row: 0, col: 2, letter: '(c)', yTicks: [-30, -25, -20, -15], fmt: d3.format('d'),
   ylabel: [{t: 'T'}, {t: 'skin', sub: true}, {t: ' (°C)'}],
   series: [sol(years, tskinSummit, C.blue), sol(years, tskinKANU, C.green), sol(years, tskinFA13, C.orange)],
   legend: {top: 32, items: [{label: 'Summit', color: C.blue}, {label: 'KAN-U', color: C.green}, {label: 'FA-13', color: C.orange}]}},

  {row: 1, col: 0, letter: '(d)', title: 'Summit', yTicks: [-0.5, -0.25, 0, 0.25, 0.5, 0.75, 1, 1.25], fmt: d3.format('.2f'),
   ylabel: [{t: 'Elevation change (m)'}],
   band: {x: bandYears, lo: dSummitLo, hi: dSummitHi},
   series: [sol(halfYears, dSummitV12, C.blue, 2.5), sol(halfYears, dSummitV11, C.red, 2.5)]},
  {row: 1, col: 1, letter: '(e)', title: 'KAN-U', yTicks: [-6, -4, -2, 0], fmt: d3.format('d'),
   band: {x: bandYears, lo: eKANULo, hi: eKANUHi},
   series: [sol(halfYears, eKANUV12, C.blue, 2.5), sol(halfYears, eKANUV11, C.red, 2.5)]},
  {row: 1, col: 2, letter: '(f)', title: 'FA-13', yTicks: [-12.5, -10, -7.5, -5, -2.5, 0, 2.5], fmt: d3.format('.1f'),
   band: {x: halfYears, lo: fFA13Lo, hi: fFA13Hi},
   series: [sol(halfYears, fFA13V12, C.blue, 2.5), sol(halfYears, fFA13V11, C.red, 2.5)],
   legend: {top: 413, items: [{label: 'v1.2G', color: C.blue}, {label: 'v1.1G', color: C.red}]}},

  {row: 2, col: 0, letter: '(g)', yTicks: [-0.6, -0.4, -0.2, 0, 0.2, 0.4, 0.6, 0.8], fmt: d3.format('.1f'),
   ylabel: [{t: 'v (m yr'}].concat(yrSup),
   series: [sol(years, gSnowV12, C.blue), sol(years, gFcV12, C.orange), sol(years, gTotalV12, C.brown),
            dsh(years, gSnowV11, C.blue), dsh(years, gFcV11, C.orange), dsh(years, gTotalV11, C.brown)]},
  {row: 2, col: 1, letter: '(h)', yTicks: [-1, 0, 1, 2], fmt: d3.format('d'),
   series: [sol(years, hSnowV12, C.blue), sol(years, hFcV12, C.orange), sol(years, hMeltV12, C.green), sol(years, hTotalV12, C.brown),
            dsh(years, hSnowV11, C.blue), dsh(years, hFcV11, C.orange), dsh(years, hMeltV11, C.green), dsh(years, hTotalV11, C.brown)]},
  {row: 2, col: 2, letter: '(i)', yTicks: [-2, -1, 0, 1, 2, 3, 4, 5], fmt: d3.format('d'),
   series: [sol(years, iSnowV12, C.blue), sol(years, iFcV12, C.orange), sol(years, iMeltV12, C.green), sol(years, iTotalV12, C.brown),
            dsh(years, iSnowV11, C.blue), dsh(years, iFcV11, C.orange), dsh(years, iMeltV11, C.green), dsh(years, iTotalV11, C.brown)],
   legend: {top: 822, items: [
     {label: 'v1.2G, snow', color: C.blue}, {label: 'v1.2G, fc', color: C.orange},
     {label: 'v1.2G, melt', color: C.green}, {label: 'v1.2G, total', color: C.brown},
     {label: 'v1.1G, snow', color: C.blue, dash: true}, {label: 'v1.1G, fc', color: C.orange, dash: true},
     {label: 'v1.1G, melt', color: C.green, dash: true}, {label: 'v1.1G, total', color: C.brown, dash: true}]}}
];

panels.forEach(drawPanel);
</script>
</body>
</html>
